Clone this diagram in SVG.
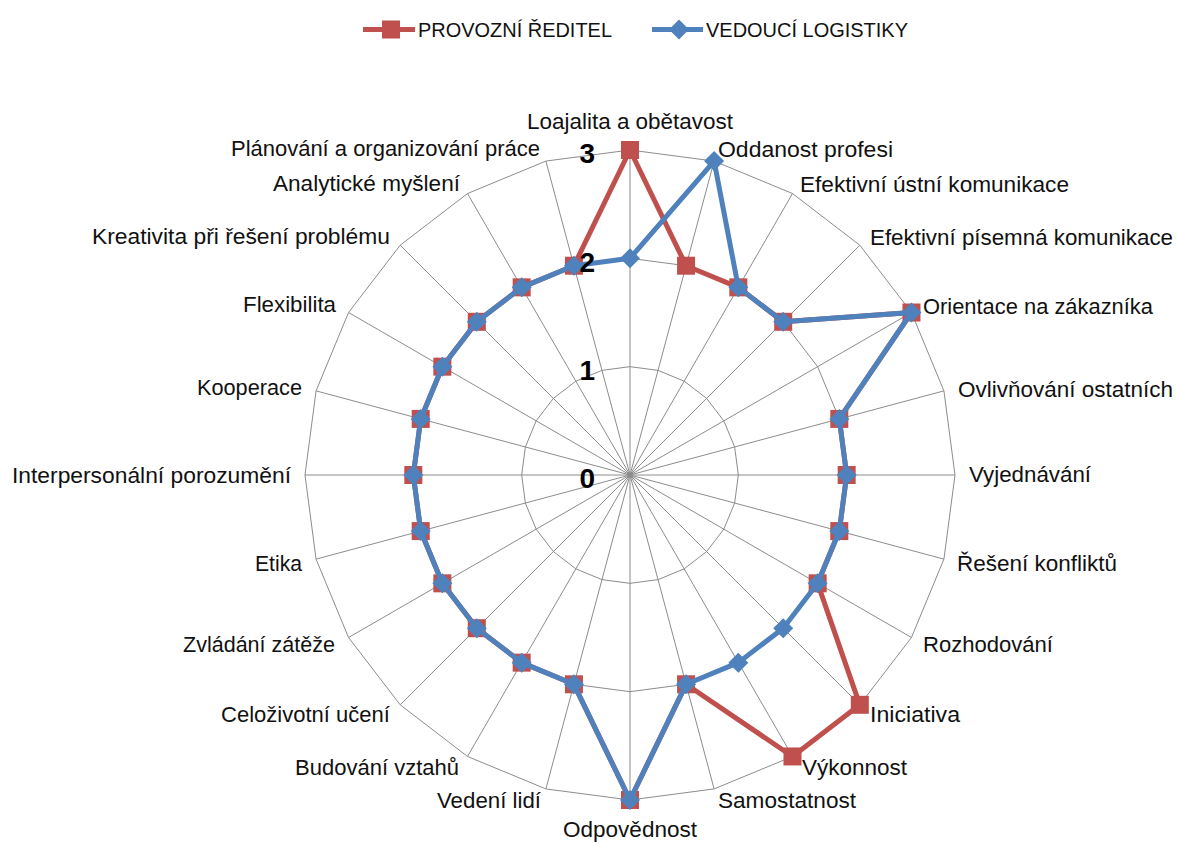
<svg xmlns="http://www.w3.org/2000/svg" width="1178" height="842" viewBox="0 0 1178 842">
<style>
.grid{fill:none;stroke:#8c8c8c;stroke-width:1}
.lbl{font-family:"Liberation Sans",Arial,sans-serif;font-size:22px;fill:#111}
.leg{font-family:"Liberation Sans",Arial,sans-serif;font-size:20px;fill:#111}
.ax{font-family:"Liberation Sans",Arial,sans-serif;font-size:28px;font-weight:bold;fill:#000;text-anchor:end}
.red{fill:none;stroke:#C0504D;stroke-width:5;stroke-linejoin:round}
.blue{fill:none;stroke:#4F81BD;stroke-width:5;stroke-linejoin:round}
.rm{fill:#C0504D}
.bm{fill:#4F81BD}
</style>
<defs>
<rect id="sq" x="-9" y="-9" width="18" height="18"/>
<path id="dm" d="M0,-10 L10,0 L0,10 L-10,0Z"/>
</defs>
<rect width="1178" height="842" fill="#fff"/>
<g id="grid">
<path class="grid" d="M630,475L630,150M630,475L714.12,161.07M630,475L792.5,193.54M630,475L859.81,245.19M630,475L911.46,312.5M630,475L943.93,390.88M630,475L955,475M630,475L943.93,559.12M630,475L911.46,637.5M630,475L859.81,704.81M630,475L792.5,756.46M630,475L714.12,788.93M630,475L630,800M630,475L545.88,788.93M630,475L467.5,756.46M630,475L400.19,704.81M630,475L348.54,637.5M630,475L316.07,559.12M630,475L305,475M630,475L316.07,390.88M630,475L348.54,312.5M630,475L400.19,245.19M630,475L467.5,193.54M630,475L545.88,161.07"/>
<polygon class="grid" points="630,150 714.12,161.07 792.5,193.54 859.81,245.19 911.46,312.5 943.93,390.88 955,475 943.93,559.12 911.46,637.5 859.81,704.81 792.5,756.46 714.12,788.93 630,800 545.88,788.93 467.5,756.46 400.19,704.81 348.54,637.5 316.07,559.12 305,475 316.07,390.88 348.54,312.5 400.19,245.19 467.5,193.54 545.88,161.07"/>
<polygon class="grid" points="630,258.33 686.08,265.71 738.33,287.36 783.21,321.79 817.64,366.67 839.29,418.92 846.67,475 839.29,531.08 817.64,583.33 783.21,628.21 738.33,662.64 686.08,684.29 630,691.67 573.92,684.29 521.67,662.64 476.79,628.21 442.36,583.33 420.71,531.08 413.33,475 420.71,418.92 442.36,366.67 476.79,321.79 521.67,287.36 573.92,265.71"/>
<polygon class="grid" points="630,366.67 658.04,370.36 684.17,381.18 706.6,398.4 723.82,420.83 734.64,446.96 738.33,475 734.64,503.04 723.82,529.17 706.6,551.6 684.17,568.82 658.04,579.64 630,583.33 601.96,579.64 575.83,568.82 553.4,551.6 536.18,529.17 525.36,503.04 521.67,475 525.36,446.96 536.18,420.83 553.4,398.4 575.83,381.18 601.96,370.36"/>
</g>
<g id="series-provozni-reditel">
<polygon class="red" points="630,150 686.08,265.71 738.33,287.36 783.21,321.79 911.46,312.5 839.29,418.92 846.67,475 839.29,531.08 817.64,583.33 859.81,704.81 792.5,756.46 686.08,684.29 630,800 573.92,684.29 521.67,662.64 476.79,628.21 442.36,583.33 420.71,531.08 413.33,475 420.71,418.92 442.36,366.67 476.79,321.79 521.67,287.36 573.92,265.71"/>
<g class="rm">
<use href="#sq" x="630" y="150"/><use href="#sq" x="686.08" y="265.71"/><use href="#sq" x="738.33" y="287.36"/><use href="#sq" x="783.21" y="321.79"/><use href="#sq" x="911.46" y="312.5"/><use href="#sq" x="839.29" y="418.92"/><use href="#sq" x="846.67" y="475"/><use href="#sq" x="839.29" y="531.08"/><use href="#sq" x="817.64" y="583.33"/><use href="#sq" x="859.81" y="704.81"/><use href="#sq" x="792.5" y="756.46"/><use href="#sq" x="686.08" y="684.29"/><use href="#sq" x="630" y="800"/><use href="#sq" x="573.92" y="684.29"/><use href="#sq" x="521.67" y="662.64"/><use href="#sq" x="476.79" y="628.21"/><use href="#sq" x="442.36" y="583.33"/><use href="#sq" x="420.71" y="531.08"/><use href="#sq" x="413.33" y="475"/><use href="#sq" x="420.71" y="418.92"/><use href="#sq" x="442.36" y="366.67"/><use href="#sq" x="476.79" y="321.79"/><use href="#sq" x="521.67" y="287.36"/><use href="#sq" x="573.92" y="265.71"/>
</g>
</g>
<g id="series-vedouci-logistiky">
<polygon class="blue" points="630,258.33 714.12,161.07 738.33,287.36 783.21,321.79 911.46,312.5 839.29,418.92 846.67,475 839.29,531.08 817.64,583.33 783.21,628.21 738.33,662.64 686.08,684.29 630,800 573.92,684.29 521.67,662.64 476.79,628.21 442.36,583.33 420.71,531.08 413.33,475 420.71,418.92 442.36,366.67 476.79,321.79 521.67,287.36 573.92,265.71"/>
<g class="bm">
<use href="#dm" x="630" y="258.33"/><use href="#dm" x="714.12" y="161.07"/><use href="#dm" x="738.33" y="287.36"/><use href="#dm" x="783.21" y="321.79"/><use href="#dm" x="911.46" y="312.5"/><use href="#dm" x="839.29" y="418.92"/><use href="#dm" x="846.67" y="475"/><use href="#dm" x="839.29" y="531.08"/><use href="#dm" x="817.64" y="583.33"/><use href="#dm" x="783.21" y="628.21"/><use href="#dm" x="738.33" y="662.64"/><use href="#dm" x="686.08" y="684.29"/><use href="#dm" x="630" y="800"/><use href="#dm" x="573.92" y="684.29"/><use href="#dm" x="521.67" y="662.64"/><use href="#dm" x="476.79" y="628.21"/><use href="#dm" x="442.36" y="583.33"/><use href="#dm" x="420.71" y="531.08"/><use href="#dm" x="413.33" y="475"/><use href="#dm" x="420.71" y="418.92"/><use href="#dm" x="442.36" y="366.67"/><use href="#dm" x="476.79" y="321.79"/><use href="#dm" x="521.67" y="287.36"/><use href="#dm" x="573.92" y="265.71"/>
</g>
</g>
<g id="axis-values">
<text class="ax" x="595" y="163">3</text>
<text class="ax" x="595" y="272">2</text>
<text class="ax" x="595" y="380">1</text>
<text class="ax" x="595" y="488">0</text>
</g>
<g id="category-labels" class="lbl">
<text x="527" y="129" textLength="206" lengthAdjust="spacingAndGlyphs">Loajalita a obětavost</text>
<text x="718" y="157" textLength="175" lengthAdjust="spacingAndGlyphs">Oddanost profesi</text>
<text x="800" y="192" textLength="269" lengthAdjust="spacingAndGlyphs">Efektivní ústní komunikace</text>
<text x="870" y="245" textLength="303" lengthAdjust="spacingAndGlyphs">Efektivní písemná komunikace</text>
<text x="923" y="314" textLength="230" lengthAdjust="spacingAndGlyphs">Orientace na zákazníka</text>
<text x="958" y="397" textLength="215" lengthAdjust="spacingAndGlyphs">Ovlivňování ostatních</text>
<text x="969" y="482" textLength="122" lengthAdjust="spacingAndGlyphs">Vyjednávání</text>
<text x="957" y="571" textLength="160" lengthAdjust="spacingAndGlyphs">Řešení konfliktů</text>
<text x="923" y="652" textLength="130" lengthAdjust="spacingAndGlyphs">Rozhodování</text>
<text x="870" y="722" textLength="90" lengthAdjust="spacingAndGlyphs">Iniciativa</text>
<text x="802" y="775" textLength="105" lengthAdjust="spacingAndGlyphs">Výkonnost</text>
<text x="718" y="808" textLength="138" lengthAdjust="spacingAndGlyphs">Samostatnost</text>
<text x="563" y="837" textLength="134" lengthAdjust="spacingAndGlyphs">Odpovědnost</text>
<text x="437" y="808" textLength="104" lengthAdjust="spacingAndGlyphs">Vedení lidí</text>
<text x="295" y="775" textLength="164" lengthAdjust="spacingAndGlyphs">Budování vztahů</text>
<text x="221" y="722" textLength="169" lengthAdjust="spacingAndGlyphs">Celoživotní učení</text>
<text x="183" y="652" textLength="152" lengthAdjust="spacingAndGlyphs">Zvládání zátěže</text>
<text x="255" y="571" textLength="47" lengthAdjust="spacingAndGlyphs">Etika</text>
<text x="12" y="483" textLength="279" lengthAdjust="spacingAndGlyphs">Interpersonální porozumění</text>
<text x="197" y="395" textLength="105" lengthAdjust="spacingAndGlyphs">Kooperace</text>
<text x="243" y="312" textLength="93" lengthAdjust="spacingAndGlyphs">Flexibilita</text>
<text x="92" y="244" textLength="298" lengthAdjust="spacingAndGlyphs">Kreativita při řešení problému</text>
<text x="273" y="191" textLength="187" lengthAdjust="spacingAndGlyphs">Analytické myšlení</text>
<text x="231" y="156" textLength="309" lengthAdjust="spacingAndGlyphs">Plánování a organizování práce</text>
</g>
<g id="legend">
<line x1="363" y1="29.5" x2="415" y2="29.5" stroke="#C0504D" stroke-width="5"/>
<use href="#sq" x="391" y="29.5" class="rm"/>
<text class="leg" x="418" y="37" textLength="194" lengthAdjust="spacingAndGlyphs">PROVOZNÍ ŘEDITEL</text>
<line x1="652" y1="29.5" x2="703" y2="29.5" stroke="#4F81BD" stroke-width="5"/>
<use href="#dm" x="679" y="29.5" class="bm"/>
<text class="leg" x="706" y="37" textLength="202" lengthAdjust="spacingAndGlyphs">VEDOUCÍ LOGISTIKY</text>
</g>
</svg>
